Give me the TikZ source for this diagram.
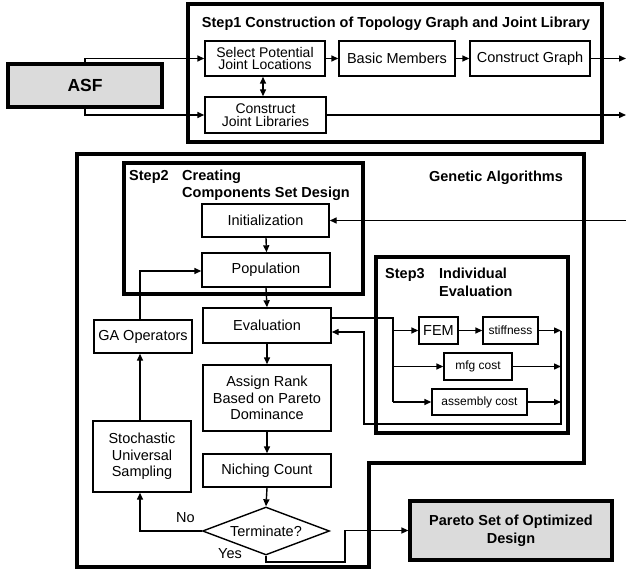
\documentclass[tikz,border=0pt]{standalone}
\usepackage{fontspec}
\setmainfont{Liberation Sans}
\usetikzlibrary{arrows.meta,shapes.geometric}
\begin{document}
\begin{tikzpicture}[x=1pt,y=-1pt,
  box/.style={draw, line width=1.4pt, inner sep=0pt, align=center, font=\fontsize{14.5}{16.7}\selectfont},
  tight/.style={font=\fontsize{14}{12.6}\selectfont},
  small/.style={font=\fontsize{12}{14}\selectfont},
  frame/.style={draw, line width=3.2pt},
  grayb/.style={draw, line width=3.2pt, fill=black!14, inner sep=0pt, align=center},
  arr/.style={line width=1.4pt, -{Triangle[length=7pt,width=6pt]}},
  darr/.style={line width=1.4pt, {Triangle[length=7pt,width=6pt]}-{Triangle[length=7pt,width=6pt]}},
  ln/.style={line width=1.4pt},
  ttl/.style={font=\fontsize{14.5}{17}\selectfont\bfseries, inner sep=0pt},
  lbl/.style={font=\fontsize{14.5}{17}\selectfont, inner sep=0pt}
]
\useasboundingbox (0,0) rectangle (626,569);

% ---------- Step 1 ----------
\draw[frame] (188,4) rectangle (602,142);
\node[ttl, anchor=base] (t1) at (396,27.5) {Step1 Construction of Topology Graph and Joint Library};
\node[grayb, minimum width=154pt, minimum height=43pt, font=\fontsize{17.5}{20}\selectfont\bfseries] (asf) at (85,85.5) {ASF};
\node[box, tight, minimum width=120pt, minimum height=35pt] (sel) at (265,58.5) {Select Potential\\Joint Locations};
\node[box, minimum width=116pt, minimum height=35pt] (basic) at (397,58.5) {Basic Members};
\node[box, minimum width=120pt, minimum height=35pt] (cg) at (530,58.5) {Construct Graph};
\node[box, tight, minimum width=121pt, minimum height=36pt] (cjl) at (265.5,115) {Construct\\Joint Libraries};
\coordinate (o1) at (626,58.5);
\coordinate (o2) at (626,115);
\draw[arr] (asf.north) |- (sel.west);
\draw[arr] (asf.south) |- (cjl.west);
\draw[arr] (sel) -- (basic);
\draw[arr] (basic) -- (cg);
\draw[arr] (cg.east) -- (o1);
\draw[arr] (cjl.east) -- (o2);
\draw[darr] ([xshift=-2pt]sel.south) -- ([xshift=-2.5pt]cjl.north);

% ---------- GA outer frame ----------
\draw[frame] (77,154) -- (584,154) -- (584,463) -- (369,463) -- (369,567) -- (77,567) -- cycle;
\node[ttl, anchor=base] (ga) at (496,181.5) {Genetic Algorithms};

% ---------- Step 2 ----------
\draw[frame] (124,163) rectangle (363,294);
\node[ttl, anchor=base west] (s2a) at (129,181) {Step2};
\node[ttl, anchor=base west] (s2b) at (182,181) {Creating};
\node[ttl, anchor=base west] (s2c) at (182,198) {Components Set Design};

\node[box, minimum width=127pt, minimum height=33pt] (init) at (265.5,220.5) {Initialization};
\node[box, minimum width=128pt, minimum height=34pt] (pop) at (266,270) {Population};
\node[box, minimum width=128pt, minimum height=35pt] (eval) at (267,325.5) {Evaluation};
\node[box, minimum width=128pt, minimum height=66pt] (rank) at (267,398) {Assign Rank\\Based on Pareto\\Dominance};
\node[box, minimum width=128pt, minimum height=33pt] (nich) at (267,470.5) {Niching Count};
\node[draw, line width=1.4pt, shape=diamond, aspect=2.65, inner sep=0pt, minimum width=127pt, minimum height=48pt, font=\fontsize{14.5}{17}\selectfont] (dia) at (266,531) {Terminate?};
\node[box, minimum width=98pt, minimum height=33pt] (gaop) at (143,336.5) {GA Operators};
\node[box, minimum width=98pt, minimum height=71pt] (sus) at (142,456.5) {Stochastic\\Universal\\Sampling};
\node[grayb, minimum width=202pt, minimum height=59pt, font=\fontsize{14.5}{18}\selectfont\bfseries] (par) at (511,530.5) {Pareto Set of Optimized\\Design};

\coordinate (inR) at (626,220.5);
\draw[arr] (inR) -- (init.east);
\draw[arr] ([xshift=0.5pt]init.south) -- ([xshift=0.5pt]pop.north);
\draw[arr] (pop.south) -- (eval.north);
\draw[arr] (eval) -- (rank);
\draw[arr] (rank) -- (nich);
\draw[arr] (nich.south) -- (dia.north);
\draw[arr] ([xshift=-2pt]sus.north) -- ([xshift=-2pt]sus.north |- gaop.south);
\draw[arr] ([xshift=-3pt]gaop.north) |- ([yshift=-1pt]pop.west);
\draw[arr] (dia.west) -| ([xshift=-2pt]sus.south);
\coordinate (yb) at (345,562);
\draw[arr] (dia.south) |- (yb) |- (par.west);
\node[lbl, anchor=base west] (no) at (176,522.5) {No};
\node[lbl, anchor=base west] (yes) at (218,558) {Yes};

% ---------- Step 3 ----------
\draw[frame] (376,257) rectangle (568,433);
\node[ttl, anchor=base west] (s3a) at (385,279) {Step3};
\node[ttl, anchor=base west] (s3b) at (439,279) {Individual};
\node[ttl, anchor=base west] (s3c) at (439,296) {Evaluation};

\node[box, minimum width=39pt, minimum height=27pt] (fem) at (438.5,330.5) {FEM};
\node[box, small, minimum width=55pt, minimum height=27pt] (stf) at (510.5,330.5) {stiffness};
\node[box, small, minimum width=68pt, minimum height=27pt] (mfg) at (478,366.5) {mfg cost};
\node[box, small, minimum width=95pt, minimum height=26pt] (asm) at (479.5,402) {assembly cost};

\coordinate (bx) at (393,318);
\coordinate (bb) at (393,402);
\draw[ln] ([yshift=7.5pt]eval.east) -- (bx) -- (bb);
\draw[arr] (bx |- fem.west) -- (fem.west);
\draw[arr] (bx |- mfg.west) -- (mfg.west);
\draw[arr] (bb) -- (asm.west);
\draw[arr] (fem) -- (stf);
\coordinate (rtop) at (561,330.5);
\coordinate (rbot) at (561,424);
\coordinate (lbot) at (364,424);
\draw[arr] (stf.east) -- (rtop);
\draw[arr] (mfg.east) -- (mfg.east -| rtop);
\draw[arr] (asm.east) -- (asm.east -| rtop);
\draw[arr] (rtop) -- (rbot) -- (lbot) |- ([yshift=-6.5pt]eval.east);
\end{tikzpicture}
\end{document}
